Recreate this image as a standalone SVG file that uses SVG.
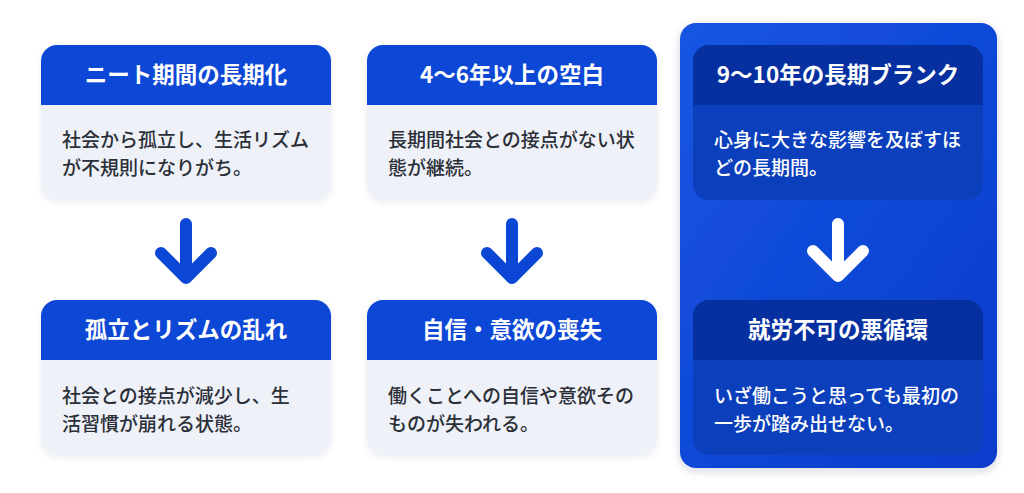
<svg xmlns="http://www.w3.org/2000/svg" width="1024" height="493" viewBox="0 0 1024 493">
<defs>
<style>
.hd{font-family:"Noto Sans CJK JP","Noto Sans",sans-serif;font-size:22.5px;font-weight:700;fill:#ffffff;text-anchor:middle}
.bd{font-family:"Noto Sans CJK JP","Noto Sans",sans-serif;font-size:19px;font-weight:500;fill:#2b2f37}
.bdw{font-family:"Noto Sans CJK JP","Noto Sans",sans-serif;font-size:19px;font-weight:500;fill:#ffffff}
.arr{fill:none;stroke:#0b47d4;stroke-width:12;stroke-linecap:round;stroke-linejoin:round}
.arrw{fill:none;stroke:#ffffff;stroke-width:12;stroke-linecap:round;stroke-linejoin:round}
</style>
<linearGradient id="panel" x1="0" y1="0" x2="1" y2="1">
<stop offset="0" stop-color="#1655e2"/>
<stop offset="1" stop-color="#0a3ccb"/>
</linearGradient>
<filter id="sh" x="-10%" y="-10%" width="120%" height="125%">
<feDropShadow dx="0" dy="3" stdDeviation="4" flood-color="#1a2a60" flood-opacity="0.18"/>
</filter>
<filter id="sh2" x="-10%" y="-10%" width="120%" height="125%">
<feDropShadow dx="0" dy="2" stdDeviation="3" flood-color="#1a2a60" flood-opacity="0.08"/>
</filter>
<clipPath id="c1"><rect x="0" y="0" width="290" height="155" rx="16"/></clipPath>
</defs>
<rect width="1024" height="493" fill="#ffffff"/>

<g id="panel-bg">
<rect x="680" y="23" width="317" height="445" rx="16" fill="url(#panel)" filter="url(#sh)"/>
</g>

<g id="node-1" transform="translate(41,45)">
<g filter="url(#sh2)"><g clip-path="url(#c1)">
<rect width="290" height="155" fill="#eef1f7"/>
<rect width="290" height="60" fill="#0847d5"/>
</g></g>
<text class="hd" x="145" y="38">ニート期間の長期化</text>
<text class="bd" x="21" y="102">社会から孤立し、生活リズム</text>
<text class="bd" x="21" y="130">が不規則になりがち。</text>
</g>

<g id="node-2" transform="translate(367,45)">
<g filter="url(#sh2)"><g clip-path="url(#c1)">
<rect width="290" height="155" fill="#eef1f7"/>
<rect width="290" height="60" fill="#0847d5"/>
</g></g>
<text class="hd" x="145" y="38">4〜6年以上の空白</text>
<text class="bd" x="21" y="102">長期間社会との接点がない状</text>
<text class="bd" x="21" y="130">態が継続。</text>
</g>

<g id="node-3" transform="translate(693,45)">
<g clip-path="url(#c1)">
<rect width="290" height="155" fill="#0b3fbb"/>
<rect width="290" height="60" fill="#06309f"/>
</g>
<text class="hd" x="145" y="38">9〜10年の長期ブランク</text>
<text class="bdw" x="21" y="102">心身に大きな影響を及ぼすほ</text>
<text class="bdw" x="21" y="130">どの長期間。</text>
</g>

<g id="node-4" transform="translate(41,300)">
<g filter="url(#sh2)"><g clip-path="url(#c1)">
<rect width="290" height="155" fill="#eef1f7"/>
<rect width="290" height="60" fill="#0847d5"/>
</g></g>
<text class="hd" x="145" y="38">孤立とリズムの乱れ</text>
<text class="bd" x="21" y="103">社会との接点が減少し、生</text>
<text class="bd" x="21" y="131">活習慣が崩れる状態。</text>
</g>

<g id="node-5" transform="translate(367,300)">
<g filter="url(#sh2)"><g clip-path="url(#c1)">
<rect width="290" height="155" fill="#eef1f7"/>
<rect width="290" height="60" fill="#0847d5"/>
</g></g>
<text class="hd" x="145" y="38">自信・意欲の喪失</text>
<text class="bd" x="21" y="103">働くことへの自信や意欲その</text>
<text class="bd" x="21" y="131">ものが失われる。</text>
</g>

<g id="node-6" transform="translate(693,300)">
<g clip-path="url(#c1)">
<rect width="290" height="155" fill="#0b3fbb"/>
<rect width="290" height="60" fill="#06309f"/>
</g>
<text class="hd" x="145" y="38">就労不可の悪循環</text>
<text class="bdw" x="21" y="103">いざ働こうと思っても最初の</text>
<text class="bdw" x="21" y="131">一歩が踏み出せない。</text>
</g>

<g id="connectors">
<path class="arr" d="M186 224 V278 M161 253 L186 278 L211 253"/>
<path class="arr" d="M512 224 V278 M487 253 L512 278 L537 253"/>
<path class="arrw" d="M838 224 V276 M813 251 L838 276 L863 251"/>
</g>
</svg>
